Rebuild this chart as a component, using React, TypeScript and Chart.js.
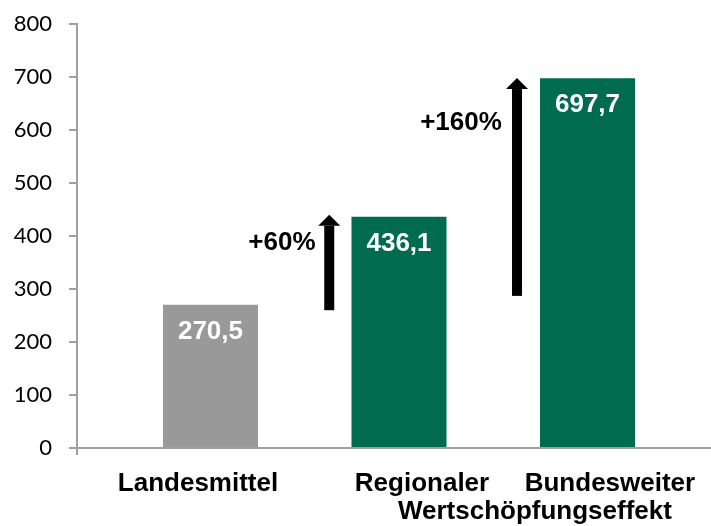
import { useEffect, useRef } from "react";
import { Chart, registerables } from "chart.js";

Chart.register(...registerables);

// ---- data ----
const categories = ["Landesmittel", "Regionaler Wertschöpfungseffekt", "Bundesweiter Wertschöpfungseffekt"];
const values = [270.5, 436.1, 697.7];
const valueLabels = ["270,5", "436,1", "697,7"];
const barColors = ["#999999", "#006B4F", "#006B4F"];

// growth arrows (in data units)
const arrowX = [0.63, 1.626];
const arrowFrom = [260, 287];
const arrowTo = [440, 698];
const arrowLabels = ["+60%", "+160%"];
const arrowLabelX = [0.379, 1.329];
const arrowLabelY = [387, 613];

// axis labels as displayed (text, x in category units, row)
const axisLabelTexts = ["Landesmittel", "Regionaler", "Bundesweiter", "Wertschöpfungseffekt"];
const axisLabelX = [-0.066, 1.122, 2.119, 1.721];
const axisLabelRow = [0, 0, 0, 1];

const AXIS_COLOR = "#a0a0a0";
const BOLD = "bold 26px 'Liberation Sans', Arial, sans-serif";

const annotations = {
  id: "annotations",
  afterDatasetsDraw(chart: any) {
    const { ctx } = chart;
    const xs = chart.scales.x;
    const ys = chart.scales.y;
    ctx.save();
    // value labels inside bars
    const meta = chart.getDatasetMeta(0);
    ctx.font = BOLD;
    ctx.fillStyle = "#ffffff";
    ctx.textAlign = "center";
    ctx.textBaseline = "middle";
    meta.data.forEach((bar: any, i: number) => {
      ctx.fillText(valueLabels[i], bar.x, bar.y + 27);
    });
    // arrows
    ctx.fillStyle = "#000000";
    arrowX.forEach((ax, i) => {
      const x = xs.getPixelForValue(ax);
      const yb = ys.getPixelForValue(arrowFrom[i]);
      const yt = ys.getPixelForValue(arrowTo[i]);
      const shaft = 10;
      const head = 22;
      const headLen = 11;
      ctx.fillRect(x - shaft / 2, yt + headLen, shaft, yb - yt - headLen);
      ctx.beginPath();
      ctx.moveTo(x, yt);
      ctx.lineTo(x + head / 2, yt + headLen);
      ctx.lineTo(x - head / 2, yt + headLen);
      ctx.closePath();
      ctx.fill();
    });
    // percent labels
    ctx.fillStyle = "#000000";
    arrowLabels.forEach((t, i) => {
      ctx.fillText(t, xs.getPixelForValue(arrowLabelX[i]), ys.getPixelForValue(arrowLabelY[i]));
    });
    // category labels
    const base = ys.getPixelForValue(0);
    axisLabelTexts.forEach((t, i) => {
      ctx.fillText(t, xs.getPixelForValue(axisLabelX[i]), base + 36 + axisLabelRow[i] * 28);
    });
    // small tick of y axis below the x axis
    ctx.strokeStyle = AXIS_COLOR;
    ctx.lineWidth = 2;
    ctx.beginPath();
    ctx.moveTo(xs.left, base);
    ctx.lineTo(xs.left, base + 7);
    ctx.stroke();
    ctx.restore();
  },
};

export default function App() {
  const ref = useRef<HTMLCanvasElement>(null);
  useEffect(() => {
    const chart = new Chart(ref.current as HTMLCanvasElement, {
      type: "bar",
      data: {
        labels: categories,
        datasets: [
          {
            data: values.map((v, i) => ({ x: i, y: v })) as any,
            backgroundColor: barColors,
            barPercentage: 0.504,
            categoryPercentage: 1,
            borderWidth: 0,
          },
        ],
      },
      options: {
        responsive: false,
        animation: false,
        layout: { padding: { top: 24, right: 0, left: 0, bottom: 0 } },
        plugins: { legend: { display: false }, tooltip: { enabled: false } },
        scales: {
          x: {
            type: "linear",
            min: -0.708,
            max: 2.655,
            offset: false,
            grid: { display: false, offset: false },
            border: { color: AXIS_COLOR, width: 2 },
            ticks: { display: false },
            afterBuildTicks: (s: any) => {
              s.ticks = values.map((_, i) => ({ value: i }));
            },
            afterFit: (s: any) => {
              s.height = 78;
            },
          },
          y: {
            min: 0,
            max: 800,
            ticks: {
              stepSize: 100,
              color: "#000000",
              font: { family: "Lato", size: 22 },
              padding: 17,
            },
            grid: {
              drawOnChartArea: false,
              drawTicks: true,
              tickLength: 8,
              color: AXIS_COLOR,
              lineWidth: 2,
            },
            border: { color: AXIS_COLOR, width: 2 },
            afterFit: (s: any) => {
              s.width = 77;
              s.paddingTop = 10;
              s.paddingBottom = 0;
            },
          },
        },
      } as any,
      plugins: [annotations],
    });
    return () => chart.destroy();
  }, []);
  return (
    <div style={{ position: "absolute", left: 0, top: 0, width: 711, height: 526 }}>
      <canvas ref={ref} width={711} height={526} />
    </div>
  );
}
